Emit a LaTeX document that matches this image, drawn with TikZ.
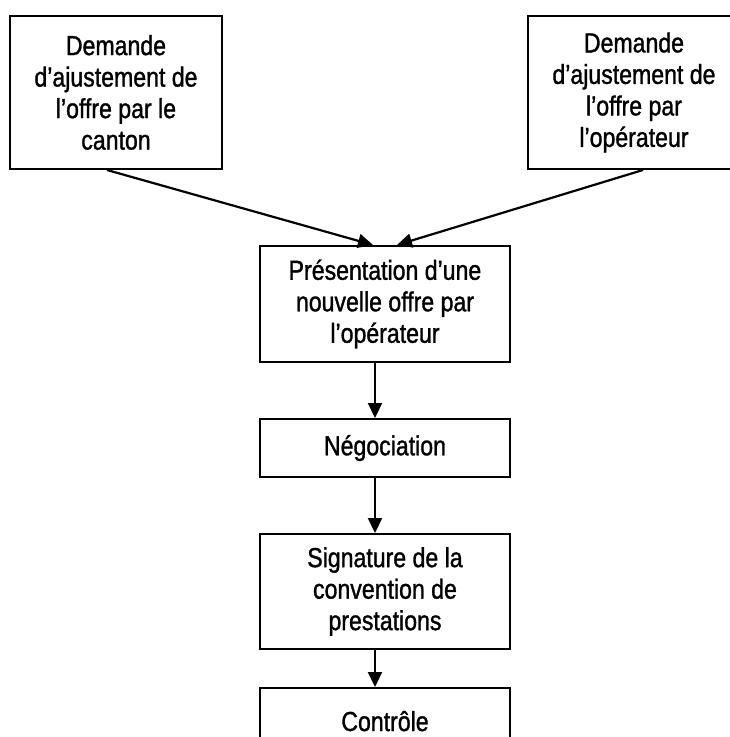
\documentclass[tikz,border=0pt]{standalone}
\usepackage{fontspec}
\setmainfont{Liberation Sans}[FakeStretch=0.84,FakeBold=1.2]
\usetikzlibrary{arrows.meta}
\begin{document}
\begin{tikzpicture}[x=1pt,y=-1pt,
  boxnode/.style={draw=black, line width=2pt, align=center, inner sep=0pt,
    font=\fontsize{27.5}{31.5}\selectfont, minimum width=250pt},
  conn/.style={line width=2.2pt, -{Triangle[length=15pt,width=14pt]}}]
\useasboundingbox (0,0) rectangle (730,737);
\clip (0,0) rectangle (730,737);
\node[boxnode, minimum width=212pt, minimum height=153pt] (b1) at (116,92.5)
  {Demande\\d’ajustement de\\l’offre par le\\canton};
\node[boxnode, minimum width=212pt, minimum height=153pt] (b2) at (634,92.5)
  {Demande\\d’ajustement de\\l’offre par\\l’opérateur};
\node[boxnode, minimum height=116pt] (b3) at (385,304)
  {Présentation d’une\\nouvelle offre par\\l’opérateur};
\node[boxnode, minimum height=58pt] (b4) at (385,448) {Négociation};
\node[boxnode, minimum height=115pt] (b5) at (385,591.5)
  {Signature de la\\convention de\\prestations};
\node[boxnode, minimum height=50pt] (b6) at (385,713) {\raisebox{-18pt}[0pt][0pt]{Contrôle}};
\coordinate (s1) at ([xshift=-9pt]b1.south);
\coordinate (s2) at ([xshift=9pt]b2.south);
\coordinate (e1) at ([xshift=-12pt]b3.north);
\coordinate (e2) at ([xshift=12pt]b3.north);
\draw[conn] (s1) -- (e1);
\draw[conn] (s2) -- (e2);
\draw[conn] ([xshift=-10pt]b3.south) -- ([xshift=-10pt]b4.north);
\draw[conn] ([xshift=-10pt]b4.south) -- ([xshift=-10pt]b5.north);
\draw[conn] ([xshift=-10pt]b5.south) -- ([xshift=-10pt]b6.north);
\end{tikzpicture}
\end{document}
